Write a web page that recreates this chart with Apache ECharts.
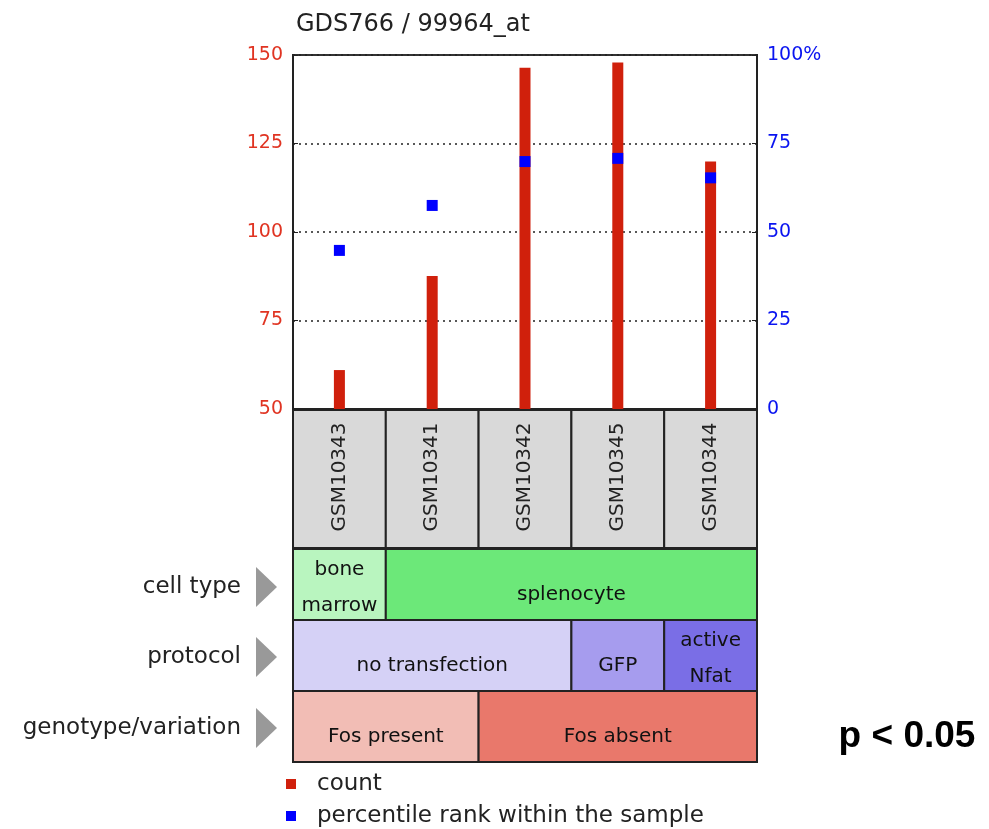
<!DOCTYPE html>
<html>
<head>
<meta charset="utf-8">
<script src="https://cdn.jsdelivr.net/npm/echarts@6/dist/echarts.min.js"></script>
<style>html,body{margin:0;padding:0;background:#fff}#c{width:989px;height:829px}</style>
</head>
<body>
<div id="c"></div>
<script>
// ---- data ----
const samples = ['GSM10343', 'GSM10341', 'GSM10342', 'GSM10345', 'GSM10344'];
const counts = [61.0, 87.6, 146.4, 147.9, 119.9];
const percentiles = [44.8, 57.5, 69.9, 70.8, 65.3];
const countTicks = [50, 75, 100, 125, 150];
const pctTicks = [0, 25, 50, 75, 100];
const cellType = [['bone\nmarrow', 0, 1], ['splenocyte', 1, 5]];
const protocol = [['no transfection', 0, 3], ['GFP', 3, 4], ['active\nNfat', 4, 5]];
const genotype = [['Fos present', 0, 2], ['Fos absent', 2, 5]];
const rowNames = ['cell type', 'protocol', 'genotype/variation'];

// ---- styles ----
const cellColors = [['#b9f5bf', '#6ce879'], ['#d5d1f6', '#a69cee', '#7a6ee6'], ['#f2bdb5', '#e9786b']];
const FONT = 'DejaVu Sans';
const rowBounds = [[0, 138], [139, 210], [210, 281], [281, 352]]; // pixel offsets inside annotation grid

const chart = echarts.init(document.getElementById('c'));

function cellItem(rowIdx, colorIdx) {
  return function (params, api) {
    const s = api.value(0), e = api.value(1);
    const b = rowBounds[rowIdx];
    const p0 = api.coord([s, b[0]]);
    const p1 = api.coord([e, b[1]]);
    const label = api.value(2);
    const lines = String(label).split('\n').length;
    const cy = (p0[1] + p1[1]) / 2 + (lines > 1 ? 3 : 10);
    return {
      type: 'group',
      children: [
        { type: 'rect', shape: { x: p0[0], y: p0[1], width: p1[0] - p0[0], height: p1[1] - p0[1] },
          style: { fill: cellColors[colorIdx][params.dataIndex], stroke: '#222', lineWidth: 2 } },
        { type: 'text', x: (p0[0] + p1[0]) / 2, y: cy,
          style: { text: label, textAlign: 'center', textVerticalAlign: 'middle', fill: '#111',
                   font: '20px "' + FONT + '"', lineHeight: 36 } }
      ]
    };
  };
}

function annData(arr) { return arr.map(d => [d[1], d[2], d[0]]); }

const graphics = [];
const rowCenters = [587, 657, 728];
rowNames.forEach((n, i) => {
  graphics.push({ type: 'text', x: 241, y: rowCenters[i],
    style: { text: n, font: '23px "' + FONT + '"', fill: '#222', textAlign: 'right', textVerticalAlign: 'middle' } });
  graphics.push({ type: 'polygon', shape: { points: [[256, rowCenters[i] - 20], [277, rowCenters[i]], [256, rowCenters[i] + 20]] },
    style: { fill: '#999' } });
});
graphics.push({ type: 'text', x: 907, y: 737,
  style: { text: 'p < 0.05', font: 'bold 37px "Liberation Sans"', fill: '#000', textAlign: 'center', textVerticalAlign: 'middle' } });

chart.setOption({
  animation: false,
  title: { text: 'GDS766 / 99964_at', left: 291, top: 8,
    textStyle: { fontFamily: FONT, fontSize: 24, fontWeight: 'normal', color: '#222' } },
  legend: {
    orient: 'vertical', left: 286, top: 771, padding: 0, itemWidth: 10, itemHeight: 10, itemGap: 6,
    icon: 'rect', height: 60,
    data: ['count', 'percentile rank within the sample'],
    textStyle: { fontFamily: FONT, fontSize: 23, color: '#222', lineHeight: 26, padding: [0, 0, 0, 16] }
  },
  graphic: graphics,
  grid: [
    { left: 293, top: 55, width: 464, height: 354, show: true, borderColor: '#333', borderWidth: 2, backgroundColor: '#fff' },
    { left: 293, top: 410, width: 464, height: 352 }
  ],
  xAxis: [
    { type: 'category', gridIndex: 0, data: samples,
      axisLine: { show: true, lineStyle: { color: '#222', width: 2 } },
      axisTick: { show: true, inside: true, alignWithLabel: true, length: 5, lineStyle: { color: '#222' } },
      axisLabel: { show: false } },
    { type: 'value', gridIndex: 1, min: 0, max: 5, show: false }
  ],
  yAxis: [
    { type: 'value', gridIndex: 0, min: countTicks[0], max: countTicks[countTicks.length - 1], interval: 25,
      axisLine: { show: true, lineStyle: { color: '#222', width: 2 } },
      axisTick: { show: true, inside: true, length: 5, lineStyle: { color: '#222' } },
      axisLabel: { color: '#e03422', fontFamily: FONT, fontSize: 19, margin: 10 },
      splitLine: { show: true, lineStyle: { color: '#222', type: [2, 4], width: 1.5 } } },
    { type: 'value', gridIndex: 0, position: 'right', min: pctTicks[0], max: pctTicks[pctTicks.length - 1], interval: 25,
      axisLine: { show: true, lineStyle: { color: '#222', width: 2 } },
      axisTick: { show: true, inside: true, length: 5, lineStyle: { color: '#222' } },
      axisLabel: { color: '#0a14f0', fontFamily: FONT, fontSize: 19, margin: 10,
        formatter: v => v === 100 ? '100%' : String(v) },
      splitLine: { show: false } },
    { type: 'value', gridIndex: 1, min: 0, max: 352, inverse: true, show: false }
  ],
  series: [
    { name: 'count', type: 'bar', xAxisIndex: 0, yAxisIndex: 0, data: counts, barWidth: 11,
      itemStyle: { color: '#d0200c' }, z: 3 },
    { name: 'percentile rank within the sample', type: 'scatter', xAxisIndex: 0, yAxisIndex: 1,
      data: percentiles, symbol: 'rect', symbolSize: 11, itemStyle: { color: '#0000ff', opacity: 1 }, z: 4 },
    { type: 'custom', xAxisIndex: 1, yAxisIndex: 2, clip: false, silent: true,
      data: samples.map((s, i) => [i, i + 1, s]),
      renderItem: function (params, api) {
        const b = rowBounds[0];
        const p0 = api.coord([api.value(0), b[0]]);
        const p1 = api.coord([api.value(1), b[1]]);
        return { type: 'group', children: [
          { type: 'rect', shape: { x: p0[0], y: p0[1], width: p1[0] - p0[0], height: p1[1] - p0[1] },
            style: { fill: '#d9d9d9', stroke: '#222', lineWidth: 2 } },
          { type: 'text', x: (p0[0] + p1[0]) / 2, y: 477 - 410 + p0[1], rotation: Math.PI / 2,
            style: { text: samples[params.dataIndex], textAlign: 'center', textVerticalAlign: 'middle',
                     fill: '#222', font: '20px "' + FONT + '"' } }
        ] };
      } },
    { type: 'custom', xAxisIndex: 1, yAxisIndex: 2, clip: false, silent: true,
      data: annData(cellType), renderItem: cellItem(1, 0) },
    { type: 'custom', xAxisIndex: 1, yAxisIndex: 2, clip: false, silent: true,
      data: annData(protocol), renderItem: cellItem(2, 1) },
    { type: 'custom', xAxisIndex: 1, yAxisIndex: 2, clip: false, silent: true,
      data: annData(genotype), renderItem: cellItem(3, 2) }
  ]
});
</script>
</body>
</html>
